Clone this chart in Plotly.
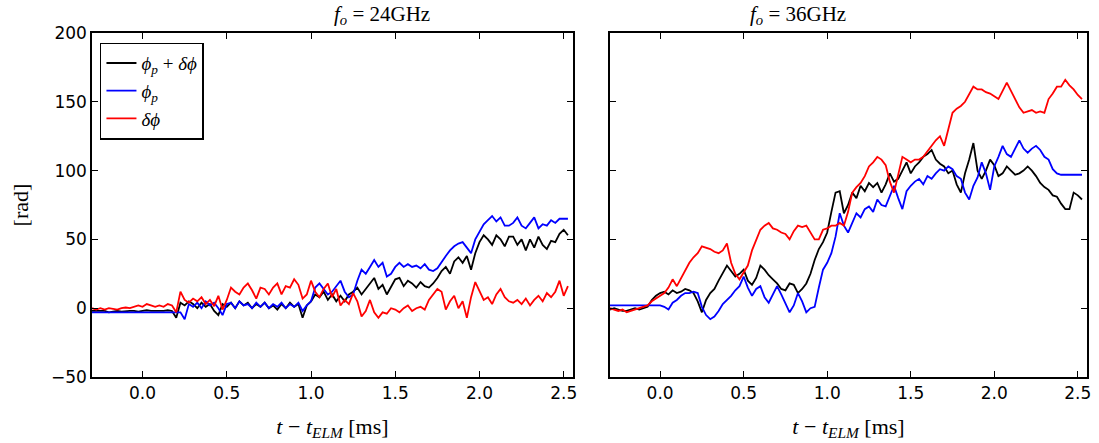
import numpy as np
import plotly.graph_objects as go

# time grid [ms]
t = np.round(np.arange(114) * 0.025 - 0.3, 3)

# f_o = 24 GHz
L_sum = [-2, -2, -2.5, -2, -3, -2.5, -2, -2.5, -2, -2,
         -2, -2.5, -2, -1.5, -2, -2, -2.5, -2, -1.5, -2,
         -7, 4, 2, 5, 3, 0, 4, 1, 3, -2,
         -5, 3, 1, 4, 0, 5, 2, 4, 0, 3,
         1, 4, 0, 2, -1, 3, 0, 4, 1, 3,
         -7, 2, 5, 10, 8, 12, 6, 10, 5, 9,
         5, 10, 12, 15, 10, 14, 18, 22, 14, 17,
         10, 15, 21, 22, 16, 20, 18, 15, 19, 16,
         15, 18, 22, 27, 30, 25, 34, 37, 33, 38,
         28, 40, 48, 53, 50, 46, 53, 50, 45, 52,
         52, 46, 50, 42, 50, 44, 52, 46, 43, 49,
         48, 54, 57, 53]
L_p = [-3, -3, -3, -3, -3.5, -3, -3, -3, -3.5, -3,
       -3, -3, -3, -3, -3.5, -3, -3, -3, -3, -3,
       -3, -3, -8, 3, 1, 4, 0, 5, 2, 4,
       0, -5, 3, 4, 0, 5, 2, 3, 0, 4,
       1, 4, 0, 3, 1, 4, 0, 3, 1, 4,
       -2, 2, 5, 15, 18, 14, 10, 12, 16, 20,
       12, 8, 10, 20, 28, 25, 30, 35, 30, 33,
       23, 25, 30, 33, 30, 32, 30, 31, 29, 32,
       28, 27, 29, 34, 38, 42, 45, 47, 48, 44,
       40, 50, 55, 61, 64, 67, 63, 66, 60, 60,
       62, 66, 60, 58, 62, 66, 58, 61, 60, 64,
       62, 65, 65, 65]
L_d = [0, -1, 0, -1, 0, -0.5, -1, 0, 0.5, 0,
       1, 2, 1, 3, 2, 1, 2, 1, 3, 2,
       -3, 12, 6, 4, 7, 5, 8, 3, 6, 1.5,
       9, -1, 6, 15, 12, 10, 15, 18, 13, 7,
       15, 14, 10, 15, 18, 10, 16, 15, 21, 17,
       7, 10, 20, 12, 8, 14, 18, 8, 14, 2,
       6, 3, 11, 5, -6, -2, 6, -3, -7, -3,
       -4, 0, -1, -3, 0, 2, -2, 0, 1, -1,
       6, 10, 14, 12, -1, 5, 9, 0, 5, -7,
       8, 19, 12, 6, 8, 3, 10, 14, 8, 5,
       4, 6, 3, 7, 2, 6, 9, 5, 11, 8,
       12, 20, 9, 16]

# f_o = 36 GHz
R_sum = [-1, 0, -1, -2, -2, -1, 0, -1, 0, 1,
         6, 9, 11, 12, 10, 13, 11, 12, 14, 13,
         11, 5, -3, 6, 11, 14, 20, 26, 31, 27,
         23, 25, 28, 20, 17, 22, 31, 28, 24, 21,
         18, 14, 13, 18, 17, 11, 14, 18, 25, 35,
         43, 48, 55, 70, 84, 85, 69, 75, 84, 80,
         89, 85, 91, 88, 91, 84, 90, 98, 92, 94,
         100, 106, 98, 103, 106, 110, 112, 115, 108, 105,
         103, 98, 100, 90, 84, 98, 108, 120, 100, 94,
         100, 108, 104, 96, 98, 103, 100, 97, 98, 100,
         103, 100, 96, 91, 88, 86, 82, 81, 76, 72,
         72, 84, 82, 79]
R_p = [2, 2, 2, 2, 2, 2, 2, 2, 2, 2,
       2, 2, 2, 1, -1, 4, 6, 9, 11, 11,
       12, 11, 1, -5, -8, -6, -2, 3, 6, 9,
       13, 16, 23, 15, 9, 14, 16, 8, 4, 10,
       16, 10, 4, -3, 2, 11, 5, -3, 0, 1,
       15, 28, 33, 40, 52, 69, 60, 55, 62, 69,
       66, 72, 74, 70, 79, 75, 74, 82, 89, 80,
       72, 85, 89, 92, 94, 90, 96, 94, 98, 101,
       100, 103, 101, 96, 94, 84, 79, 89, 95, 106,
       98, 86, 103, 110, 118, 112, 110, 116, 122, 116,
       113, 116, 118, 115, 110, 108, 101, 98, 97, 97,
       97, 97, 97, 97]
R_d = [0, -1, -2, -1, -3, -2, -1, 0, 1, 2,
       5, 7, 9, 11, 15, 21, 16, 22, 28, 33,
       37, 40, 45, 44, 43, 41, 40, 42, 47, 33,
       25, 21, 26, 31, 42, 50, 57, 60, 62, 58,
       57, 55, 54, 50, 56, 60, 59, 60, 55, 50,
       50, 57, 58, 60, 60, 62, 60, 70, 84, 88,
       91, 96, 103, 106, 110, 108, 104, 92, 84, 98,
       110, 108, 106, 108, 108, 110, 114, 118, 122, 125,
       118, 130, 142, 145, 147, 150, 155, 161, 159, 159,
       157, 156, 154, 152, 158, 164, 158, 152, 146, 142,
       143, 144, 142, 143, 142, 152, 156, 161, 161, 166,
       162, 159, 155, 152]

titles = ["<i>f</i><sub><i>o</i></sub> = 24GHz", "<i>f</i><sub><i>o</i></sub> = 36GHz"]
names = ["<i>ϕ</i><sub><i>p</i></sub> + <i>δϕ</i>", "<i>ϕ</i><sub><i>p</i></sub>", "<i>δϕ</i>"]
colors = ["#000000", "#0000ff", "#ff0000"]
x_ticks = [0.0, 0.5, 1.0, 1.5, 2.0, 2.5]
y_ticks = [-50, 0, 50, 100, 150, 200]

fig = go.Figure()
axes = [("x", "y"), ("x2", "y2")]
for (xa, ya), series in zip(axes, [(L_sum, L_p, L_d), (R_sum, R_p, R_d)]):
    for k, ys in enumerate(series):
        fig.add_trace(go.Scatter(x=t, y=ys, mode="lines", name=names[k],
                                 legendgroup=f"g{k}", xaxis=xa, yaxis=ya,
                                 line=dict(color=colors[k], width=1.8),
                                 showlegend=(xa == "x")))

serif = "Liberation Serif, Times New Roman, serif"
sans = "DejaVu Sans, sans-serif"
axis_common = dict(showgrid=False, zeroline=False, showline=True, linecolor="black",
                   linewidth=1.5, mirror="ticks", ticks="inside", ticklen=6,
                   tickcolor="black", tickwidth=1, automargin=False,
                   tickfont=dict(family=sans, size=17, color="black"))
xtitle = dict(text="<i>t</i> − <i>t</i><sub><i>ELM</i></sub> [ms]",
              font=dict(family=serif, size=22, color="black"), standoff=16)
xcommon = dict(range=[-0.3, 2.555], tickvals=x_ticks,
               ticktext=[f"{v:.1f}" for v in x_ticks], title=xtitle, **axis_common)
dom1 = [0.0, 0.4834]
dom2 = [0.5206, 1.0]

fig.update_layout(
    xaxis=dict(domain=dom1, anchor="y", **xcommon),
    xaxis2=dict(domain=dom2, anchor="y2", **xcommon),
    yaxis=dict(range=[-50, 200], tickvals=y_ticks, anchor="x",
               title=dict(text="[rad]", font=dict(family=serif, size=22, color="black"),
                          standoff=16), **axis_common),
    yaxis2=dict(range=[-50, 200], tickvals=y_ticks, anchor="x2",
                showticklabels=False, **axis_common),
)

for d, tt in zip([dom1, dom2], titles):
    fig.add_annotation(text=tt, x=(d[0] + d[1]) / 2, y=1.0, xref="paper", yref="paper",
                       yanchor="bottom", yshift=3, showarrow=False,
                       font=dict(family=serif, size=21, color="black"))

fig.update_layout(
    width=1099, height=443,
    margin=dict(l=92, r=12, t=33, b=66),
    plot_bgcolor="white", paper_bgcolor="white",
    legend=dict(x=0.008, y=0.972, xanchor="left", yanchor="top",
                bgcolor="white", bordercolor="black", borderwidth=1.5,
                font=dict(family=serif, size=19, color="black"),
                itemwidth=30, tracegroupgap=0),
)
fig.write_html("out.html", config={"displayModeBar": False},
               post_script="document.body.style.margin='0px';document.body.style.overflow='hidden';")
